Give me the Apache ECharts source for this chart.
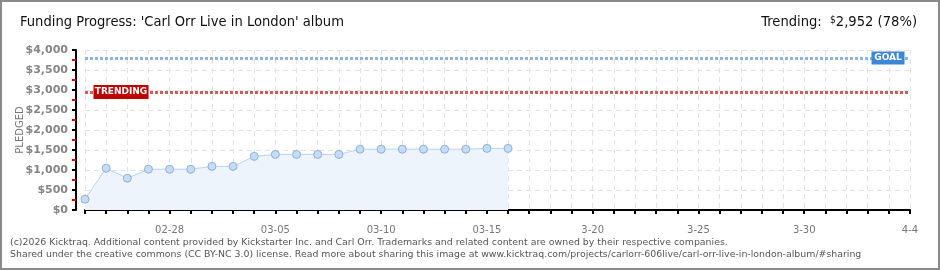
<!DOCTYPE html>
<html><head><meta charset="utf-8">
<script src="https://cdn.jsdelivr.net/npm/echarts@6/dist/echarts.min.js"></script>
<style>html,body{margin:0;padding:0;background:#fff}#c{width:940px;height:270px}</style>
</head><body><div id="c"></div>
<script>
const categories = ['02-24','02-25','02-26','02-27','02-28','03-01','03-02','03-03','03-04',
  '03-05','03-06','03-07','03-08','03-09','03-10','03-11','03-12','03-13','03-14',
  '03-15','03-16','3-17','3-18','3-19','3-20','3-21','3-22','3-23','3-24',
  '3-25','3-26','3-27','3-28','3-29','3-30','3-31','4-1','4-2','4-3','4-4'];
const pledged = [270,1045,795,1020,1020,1020,1090,1090,1340,1390,1390,1390,1390,1520,1520,1520,1520,1520,1520,1540,1540];
const goal = 3800;
const trending = 2952;
const trendingPct = 78;
const yTicks = {min:0, max:4000, step:500};
</script>
<script>
const chart = echarts.init(document.getElementById('c'), null, {renderer:'canvas'});
const fmt = v => '$' + v.toLocaleString('en-US');
const axisFont = 'DejaVu Sans';
const titleFont = '"DejaVu Sans Condensed"';
chart.setOption({
  animation:false,
  backgroundColor:'#fff',
  grid:{left:85, right:30, top:50, bottom:60, containLabel:false, outerBoundsMode:'none'},
  xAxis:{
    type:'category', data:categories, boundaryGap:false, offset:10,
    axisLine:{lineStyle:{color:'#000', width:2}},
    axisTick:{show:true, interval:0, length:4, lineStyle:{color:'#000', width:2}},
    axisLabel:{interval:(i)=> i%5===4, color:'#777', fontFamily:axisFont, fontSize:10, margin:5},
    splitLine:{show:true, interval:0, lineStyle:{color:'#e2e2e2', type:[5,4]}}
  },
  yAxis:{
    type:'value', min:yTicks.min, max:yTicks.max, interval:yTicks.step, offset:9,
    axisLine:{show:true, lineStyle:{color:'#000', width:2}},
    axisTick:{show:true, length:4, lineStyle:{color:'#000', width:2}},
    minorTick:{show:true, splitNumber:2, length:4, lineStyle:{color:'#e00000', width:2}},
    axisLabel:{formatter:fmt, color:'#858585', fontFamily:axisFont, fontSize:11, fontWeight:'bold', margin:8},
    splitLine:{show:true, lineStyle:{color:'#e2e2e2', type:[5,4]}}
  },
  series:[{
    type:'line', data:pledged, symbol:'circle', symbolSize:8,
    lineStyle:{color:'#b9d3f0', width:1},
    itemStyle:{color:'#c4dcf6', borderColor:'#8fb0d6', borderWidth:1},
    areaStyle:{color:'#edf4fc', opacity:1},
    z:3,
    markLine:{
      silent:true, symbol:'none', z:2,
      label:{show:false},
      data:[
        {yAxis:goal, lineStyle:{color:'#8cb4e2', width:3, type:[3,2]}},
        {yAxis:trending, lineStyle:{color:'#d45a5a', width:3, type:[3,2]}}
      ]
    },
    markPoint:{
      silent:true, z:5,
      data:[
        {coord:[categories[categories.length-1], goal], symbol:'rect', symbolSize:[33,13], symbolOffset:[-22,0],
         itemStyle:{color:'#3d86d8'}, label:{show:true, formatter:'GOAL', color:'#fff', fontFamily:axisFont, fontSize:9, fontWeight:'bold'}},
        {coord:[categories[0], trending], symbol:'rect', symbolSize:[55,14], symbolOffset:[36,0],
         itemStyle:{color:'#c00000'}, label:{show:true, formatter:'TRENDING', color:'#fff', fontFamily:axisFont, fontSize:9, fontWeight:'bold'}}
      ]
    }
  }],
  graphic:[
    {type:'rect', shape:{x:1, y:1, width:938, height:268}, style:{fill:'none', stroke:'#8a8a8a', lineWidth:2}, silent:true},
    {type:'text', x:20, y:130, rotation:Math.PI/2, style:{text:'PLEDGED', align:'center', verticalAlign:'middle', fill:'#777', font:'10px "DejaVu Sans"'}},
    {type:'text', left:20, top:15, style:{text:"Funding Progress: 'Carl Orr Live in London' album", fill:'#111', font:'14.6px ' + titleFont}},
    {type:'text', x:917, y:15, style:{
      text:'{a|Trending:  }{s|$}{a|' + trending.toLocaleString('en-US') + ' (' + trendingPct + '%)}',
      align:'right', rich:{a:{fill:'#111', fontSize:14.6, fontFamily:'DejaVu Sans Condensed', verticalAlign:'top'}, s:{fill:'#111', fontSize:10, fontFamily:'DejaVu Sans Condensed', verticalAlign:'top'}}}},
    {type:'text', left:10, top:238, style:{text:'(c)2026 Kicktraq. Additional content provided by Kickstarter Inc. and Carl Orr. Trademarks and related content are owned by their respective companies.', fill:'#555', font:'9.4px "DejaVu Sans"'}},
    {type:'text', left:10, top:250, style:{text:'Shared under the creative commons (CC BY-NC 3.0) license. Read more about sharing this image at www.kicktraq.com/projects/carlorr-606live/carl-orr-live-in-london-album/#sharing', fill:'#555', font:'9.4px "DejaVu Sans"'}}
  ]
});
</script>
</body></html>
